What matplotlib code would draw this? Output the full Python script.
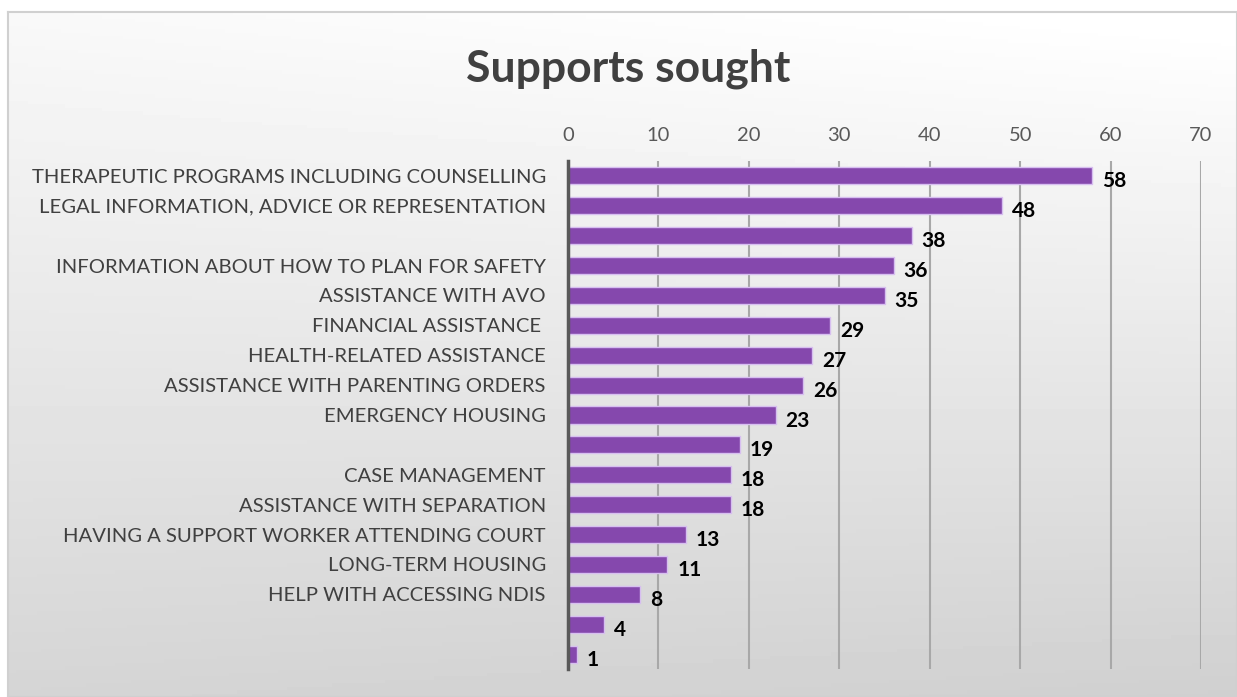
import numpy as np
import matplotlib
matplotlib.use('Agg')
import matplotlib.pyplot as plt

plt.rcParams['font.family'] = ['Lato', 'DejaVu Sans']

categories = [
    'THERAPEUTIC PROGRAMS INCLUDING COUNSELLING',
    'LEGAL INFORMATION, ADVICE OR REPRESENTATION',
    '',
    'INFORMATION ABOUT HOW TO PLAN FOR SAFETY',
    'ASSISTANCE WITH AVO',
    'FINANCIAL ASSISTANCE ',
    'HEALTH-RELATED ASSISTANCE',
    'ASSISTANCE WITH PARENTING ORDERS',
    'EMERGENCY HOUSING',
    '',
    'CASE MANAGEMENT',
    'ASSISTANCE WITH SEPARATION',
    'HAVING A SUPPORT WORKER ATTENDING COURT',
    'LONG-TERM HOUSING',
    'HELP WITH ACCESSING NDIS',
    '',
    '',
]
counts = [58, 48, 38, 36, 35, 29, 27, 26, 23, 19, 18, 18, 13, 11, 8, 4, 1]
xticks = [0, 10, 20, 30, 40, 50, 60, 70]

W, H = 1237, 697
fig = plt.figure(figsize=(W / 100, H / 100), dpi=100)
fig.patch.set_facecolor('white')

# gradient panel behind the chart
bg = fig.add_axes([8 / W, 0, 1 - 8 / W, 1 - 12 / H])
yy, xx = np.mgrid[0:1:200j, 0:1:300j]
shade = 0.975 - 0.14 * yy + 0.03 * xx * (1 - yy) - 0.02 * xx * yy
bg.imshow(shade, cmap='gray', vmin=0, vmax=1, aspect='auto', extent=[0, 1, 1, 0])
bg.set_xticks([])
bg.set_yticks([])
for s in bg.spines.values():
    s.set_color('#d0d0d0')
    s.set_linewidth(1.5)
bg.set_zorder(-1)

ax = fig.add_axes([568 / W, 1 - 669 / H, 633 / W, 508 / H])
ax.set_facecolor('none')

y = np.arange(len(counts))
ax.barh(y, counts, height=0.57, color='#8548ad', edgecolor='#d7bff0',
        linewidth=1, zorder=3)
for yi, v in zip(y, counts):
    ax.annotate(str(v), (v, yi), xytext=(7, -4), textcoords='offset points',
                ha='left', va='center', fontsize=15, fontweight='bold',
                color='black', zorder=4)

ax.set_xlim(0, 70)
ax.set_ylim(len(counts) - 0.5, -0.5)
ax.set_xticks(xticks)
ax.xaxis.tick_top()
ax.tick_params(axis='x', length=0, pad=12, labelsize=14.5, labelcolor='#595959')
ax.set_yticks(y)
ax.set_yticklabels(categories)
ax.tick_params(axis='y', length=0, pad=16, labelsize=14.6, labelcolor='#404040')
ax.grid(axis='x', color='#a8a8a8', linewidth=1.5, zorder=0)
ax.set_axisbelow(True)
for s in ['top', 'right', 'bottom']:
    ax.spines[s].set_visible(False)
ax.spines['left'].set_color('#595959')
ax.spines['left'].set_linewidth(2.5)
ax.spines['left'].set_zorder(5)

fig.text(628 / W, 1 - 69 / H, 'Supports sought', ha='center', va='center',
         fontsize=32, fontweight='bold', color='#404040')

fig.savefig('out.png', dpi=100)
